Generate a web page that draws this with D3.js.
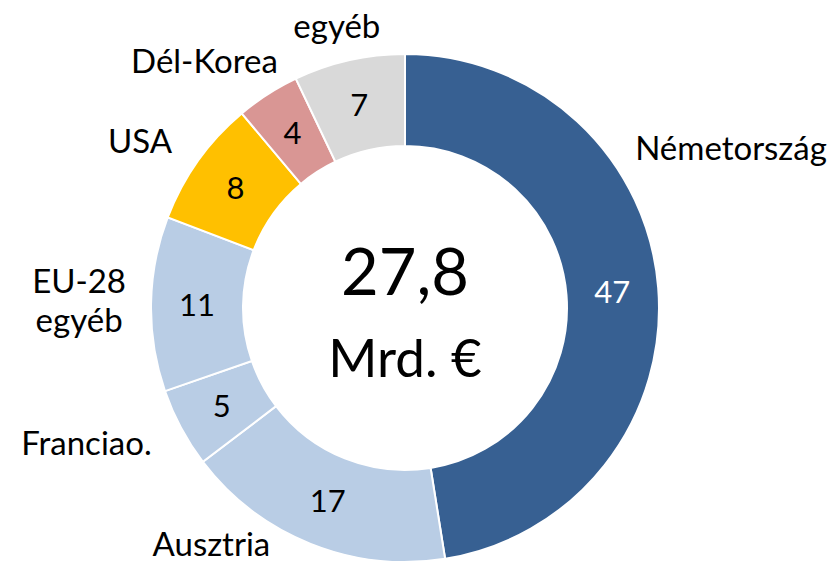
<!DOCTYPE html>
<html>
<head>
<meta charset="utf-8">
<script src="https://cdn.jsdelivr.net/npm/d3@7"></script>
<style>
  html, body { margin: 0; padding: 0; background: #fff; }
  svg { display: block; font-family: Lato, "Open Sans", sans-serif; }
</style>
</head>
<body>
<svg width="834" height="563"></svg>
<script>
// Data
const countries = ["Németország", "Ausztria", "Franciao.", "EU-28 egyéb", "USA", "Dél-Korea", "egyéb"];
const shares = [47, 17, 5, 11, 8, 4, 7];
const sliceColors = ["#376092", "#b9cde5", "#b9cde5", "#b9cde5", "#ffc000", "#d99694", "#d9d9d9"];
const totalValue = "27,8";
const totalUnit = "Mrd. €";

// where each outside label sits: [angle in degrees from 12 o'clock, distance from centre]
const labelPlacement = {
  "Németország": [63.9, 363],
  "Ausztria": [219.4, 305],
  "Franciao.": [247.0, 346],
  "EU-28 egyéb": [271.3, 326],
  "USA": [302.2, 313],
  "Dél-Korea": [320.9, 318],
  "egyéb": [346.4, 290]
};

const svg = d3.select("svg");
const cx = 405, cy = 308;
const outerR = 254, innerR = 162;

const pie = d3.pie().sort(null).value(d => d.value);
const arcs = pie(countries.map((c, i) => ({ name: c, value: shares[i], color: sliceColors[i] })));

const arc = d3.arc().innerRadius(innerR).outerRadius(outerR);

const g = svg.append("g").attr("transform", `translate(${cx},${cy})`);

// slices
g.append("g")
    .attr("stroke", "#fff")
    .attr("stroke-width", 2)
  .selectAll("path")
  .data(arcs)
  .join("path")
    .attr("d", arc)
    .attr("fill", d => d.data.color);

// values inside the ring
g.append("g")
  .selectAll("text")
  .data(arcs)
  .join("text")
    .attr("transform", d => `translate(${arc.centroid(d)})`)
    .attr("text-anchor", "middle")
    .attr("dy", "0.36em")
    .attr("font-size", 31)
    .attr("fill", (d, i) => i === 0 ? "#fff" : "#000")
    .text(d => d.data.value);

// category labels outside
const labels = g.append("g")
  .selectAll("text")
  .data(arcs)
  .join("text")
    .attr("transform", d => {
      const p = labelPlacement[d.data.name];
      return `translate(${d3.pointRadial(p[0] * Math.PI / 180, p[1])})`;
    })
    .attr("text-anchor", "middle")
    .attr("font-size", 33)
    .attr("fill", "#000");

labels.each(function(d) {
  const words = d.data.name === "EU-28 egyéb" ? ["EU-28", "egyéb"] : [d.data.name];
  const t = d3.select(this);
  const lineH = 39;
  words.forEach((w, i) => {
    t.append("tspan")
      .attr("x", 0)
      .attr("y", (i - (words.length - 1) / 2) * lineH)
      .attr("dy", "0.36em")
      .text(w);
  });
});

// total in the middle
g.append("text")
    .attr("text-anchor", "middle")
    .attr("y", -13)
    .attr("font-size", 65)
    .text(totalValue);

g.append("text")
    .attr("text-anchor", "middle")
    .attr("y", 69)
    .attr("font-size", 53)
    .text(totalUnit);
</script>
</body>
</html>
